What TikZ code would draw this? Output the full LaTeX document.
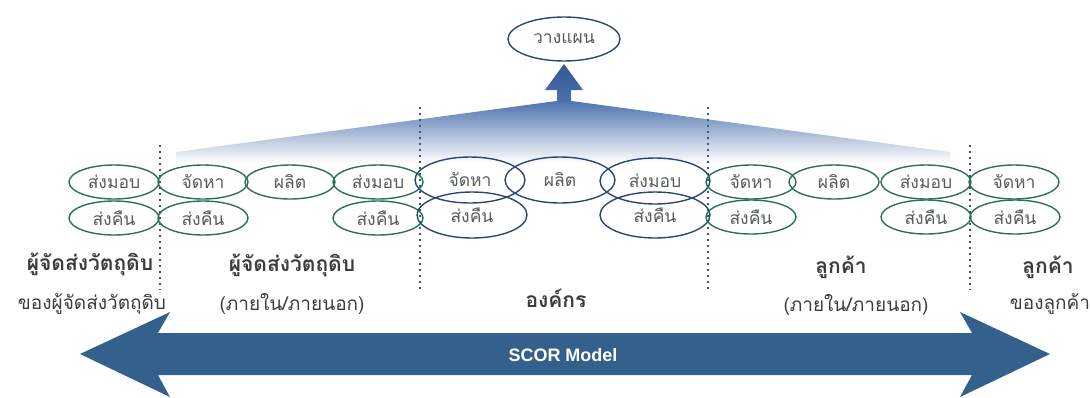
\documentclass[tikz,border=0pt]{standalone}
\usepackage{fontspec}
\newfontfamily\thaifont[Script=Thai]{Loma}
\setsansfont{Liberation Sans}
\usetikzlibrary{shapes.geometric}
\definecolor{grn}{RGB}{43,112,84}
\definecolor{blu}{RGB}{42,72,112}
\definecolor{arrowblue}{RGB}{52,96,142}
\definecolor{fantop}{RGB}{75,112,172}
\definecolor{fanmid}{RGB}{160,182,218}
\definecolor{txt}{RGB}{85,92,90}
\definecolor{lbl}{RGB}{60,60,60}
\definecolor{sepc}{RGB}{60,85,125}
\begin{document}
\begin{tikzpicture}[x=1pt,y=-1pt,
  proc/.style={ellipse, draw=grn, line width=1.4pt, minimum width=90pt, minimum height=34pt, inner sep=0pt, text=txt, font=\thaifont\fontsize{17.5}{19}\selectfont},
  orgproc/.style={proc, draw=blu, minimum width=110pt, minimum height=46pt},
  headlbl/.style={text=lbl, font=\thaifont\bfseries\fontsize{21}{23}\selectfont},
  sublbl/.style={text=lbl, font=\thaifont\fontsize{19}{21}\selectfont},
  sepline/.style={sepc, line width=1.6pt, dash pattern=on 2pt off 4pt}]
\useasboundingbox (0,0) rectangle (1090,397);
% fan
\shade[top color=fantop, middle color=fanmid, bottom color=white]
  (176,152) -- (564,100) -- (950,152) -- (950,163) -- (176,163) -- cycle;
% up arrow
\shade[top color={rgb,255:red,50;green,88;blue,150}, bottom color=fantop]
  (557,101) -- (557,90) -- (545,90) -- (564,64) -- (583,90) -- (571,90) -- (571,101) -- cycle;
% separators
\draw[sepline] (160,145) -- (160,290);
\draw[sepline] (420,107) -- (420,290);
\draw[sepline] (708,107) -- (708,290);
\draw[sepline] (970,145) -- (970,290);
% plan
\node[proc, draw=blu, minimum width=112pt, minimum height=44pt] (plan) at (564,39) {วางแผน};
% supplier's supplier
\node[proc] (s1d) at (114,182) {ส่งมอบ};
\node[proc] (s1r) at (114,218) {ส่งคืน};
% supplier
\node[proc] (s2s) at (203,182) {จัดหา};
\node[proc] (s2sr) at (203,218) {ส่งคืน};
\node[proc] (s2m) at (290,182) {ผลิต};
\node[proc] (s2d) at (378,182) {ส่งมอบ};
\node[proc] (s2dr) at (378,218) {ส่งคืน};
% organisation
\node[orgproc] (os) at (470,180) {จัดหา};
\node[orgproc] (osr) at (472,215) {ส่งคืน};
\node[orgproc] (om) at (560,180) {ผลิต};
\node[orgproc] (od) at (655,181) {ส่งมอบ};
\node[orgproc] (odr) at (655,215) {ส่งคืน};
% customer
\node[proc] (c1s) at (751,182) {จัดหา};
\node[proc] (c1sr) at (751,217) {ส่งคืน};
\node[proc] (c1m) at (834,182) {ผลิต};
\node[proc] (c1d) at (926,182) {ส่งมอบ};
\node[proc] (c1dr) at (926,217) {ส่งคืน};
% customer's customer
\node[proc] (c2s) at (1014,182) {จัดหา};
\node[proc] (c2sr) at (1015,217) {ส่งคืน};
% labels
\node[headlbl] (l1) at (90,264) {ผู้จัดส่งวัตถุดิบ};
\node[sublbl] (l1b) at (92,304) {ของผู้จัดส่งวัตถุดิบ};
\node[headlbl] (l2) at (292,265) {ผู้จัดส่งวัตถุดิบ};
\node[sublbl] (l2b) at (292,304) {(ภายใน/ภายนอก)};
\node[headlbl] (l3) at (556,298) {องค์กร};
\node[headlbl] (l4) at (841,267) {ลูกค้า};
\node[sublbl] (l4b) at (856,305) {(ภายใน/ภายนอก)};
\node[headlbl] (l5) at (1048,267) {ลูกค้า};
\node[sublbl] (l5b) at (1050,304) {ของลูกค้า};
% SCOR arrow
\fill[arrowblue] (80,354) -- (170,312) -- (158,333) -- (972,333) -- (960,312)
  -- (1050,354) -- (960,397) -- (972,375) -- (158,375) -- (170,397) -- cycle;
\node[text=white, font=\sffamily\bfseries\fontsize{18}{20}\selectfont] (scor) at (563,355) {SCOR Model};
\end{tikzpicture}
\end{document}
